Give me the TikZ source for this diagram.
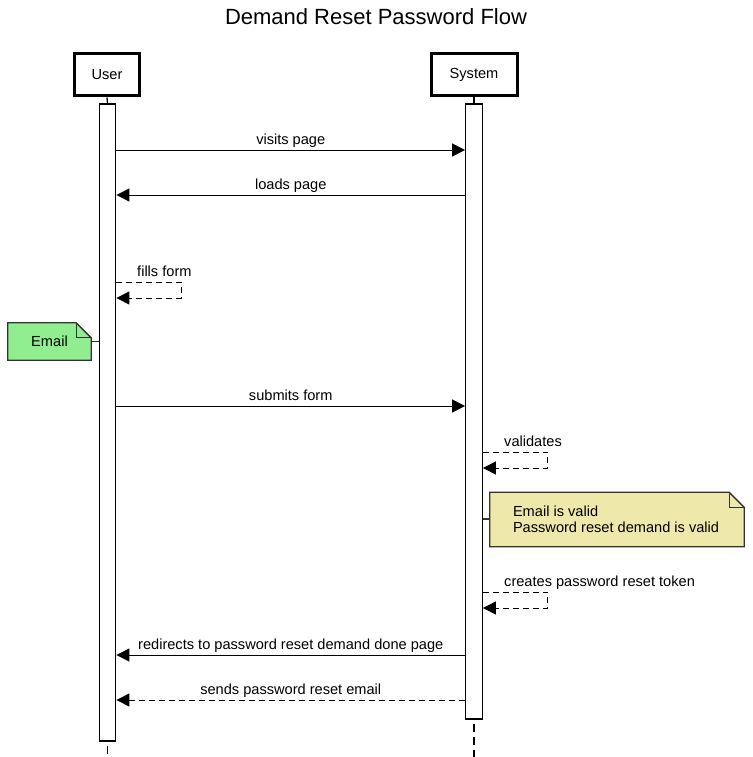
\documentclass[tikz,border=0pt]{standalone}
\usepackage{fontspec}
\setmainfont{Liberation Sans}
\usetikzlibrary{arrows.meta}
\definecolor{notegreen}{HTML}{90EE90}
\definecolor{noteyellow}{HTML}{EEE8AA}
\tikzset{
    actor/.style={draw, line width=3pt, minimum width=65pt, minimum height=42pt, inner sep=0pt, font=\fontsize{14.6}{16}\selectfont},
    actbar/.style={draw, line width=1.3pt, fill=white, minimum width=16.5pt, inner sep=0pt},
    msg/.style={line width=1pt, -{Triangle[length=13pt,width=13pt]}},
    reply/.style={msg, dash pattern=on 6pt off 4pt},
    lifetail/.style={line width=1.3pt, dash pattern=on 8pt off 5pt},
    lbl/.style={font=\fontsize{14.6}{16}\selectfont, inner sep=0pt, anchor=base},
    notebox/.style={inner sep=0pt, font=\fontsize{14.6}{16}\selectfont},
    notepath/.style={line width=1.3pt, draw=black!80}
}
% dog-eared note drawn round a node: name, fill, fold
\newcommand{\dognote}[3]{%
    \filldraw[notepath, fill=#2] (#1.north west) -- ([xshift=-#3]#1.north east) -- ([yshift=-#3]#1.north east) -- (#1.south east) -- (#1.south west) -- cycle;
    \draw[notepath] ([xshift=-#3]#1.north east) |- ([yshift=-#3]#1.north east);
}
\begin{document}
\begin{tikzpicture}[x=1pt, y=-1pt]
    \useasboundingbox (0,0) rectangle (752,757);
    \node[font=\fontsize{22}{24}\selectfont] (title) at (376,17) {Demand Reset Password Flow};
    % participants
    \node[actor] (user) at (107,75) {User};
    \node[actor, minimum width=86pt] (system) at (474,75) {System};
    \node[actbar, minimum height=637pt] (uact) at (107.5,422.5) {};
    \node[actbar, minimum height=615pt] (sact) at (474,411.5) {};
    \coordinate (uend) at (107.5,757);
    \coordinate (send) at (474,757);
    \draw[line width=1.3pt] (user.south) -- (uact.north);
    \draw[line width=1.3pt] (system.south) -- (sact.north);
    \draw[lifetail] ([yshift=-4pt]uact.south) -- (uend);
    \draw[lifetail] ([yshift=-4pt]sact.south) -- (send);
    % messages
    \draw[msg] (uact.east |- 0,150) -- (sact.west |- 0,150) node[lbl, midway, yshift=6pt] {visits page};
    \draw[msg] (sact.west |- 0,195) -- (uact.east |- 0,195) node[lbl, midway, yshift=6pt] {loads page};
    \draw[reply] (uact.east |- 0,282) -| ++(65,16) -- (uact.east |- 0,298);
    \node[lbl, anchor=base west] (fills) at (137,276) {fills form};
    % email note
    \node[notebox, minimum width=83pt, minimum height=37pt] (email) at (49.5,341.5) {};
    \dognote{email}{notegreen}{15pt}
    \node[notebox] at (email) {Email};
    \draw[notepath] (email.east |- 0,341.5) -- (uact.west |- 0,341.5);
    \draw[msg] (uact.east |- 0,406) -- (sact.west |- 0,406) node[lbl, midway, yshift=6pt] {submits form};
    \draw[reply] (sact.east |- 0,452) -| ++(65,16) -- (sact.east |- 0,468);
    \node[lbl, anchor=base west] (valid) at (504,446) {validates};
    % validity note
    \node[notebox, minimum width=254pt, minimum height=54pt] (checks) at (617,519.5) {};
    \dognote{checks}{noteyellow}{15pt}
    \node[notebox, anchor=west, align=left] at ([xshift=23pt]checks.west) {Email is valid\\Password reset demand is valid};
    \draw[notepath] (sact.east |- 0,519) -- (checks.west |- 0,519);
    \draw[reply] (sact.east |- 0,592) -| ++(65,16) -- (sact.east |- 0,608);
    \node[lbl, anchor=base west] (token) at (504,586) {creates password reset token};
    \draw[msg] (sact.west |- 0,655) -- (uact.east |- 0,655) node[lbl, midway, yshift=6pt] {redirects to password reset demand done page};
    \draw[reply] (sact.west |- 0,700) -- (uact.east |- 0,700) node[lbl, midway, yshift=6pt] {sends password reset email};
\end{tikzpicture}
\end{document}
